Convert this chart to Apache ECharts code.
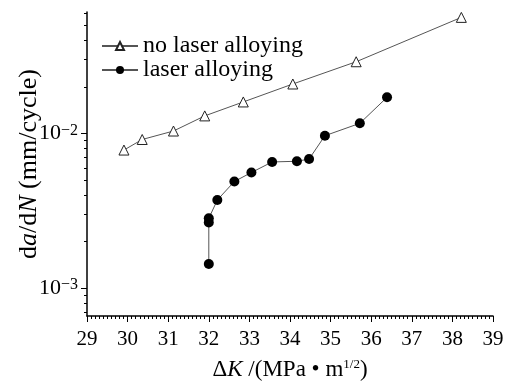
<!DOCTYPE html>
<html>
<head>
<meta charset="utf-8">
<script src="https://cdn.jsdelivr.net/npm/echarts@6/dist/echarts.min.js"></script>
<style>
  html, body { margin: 0; padding: 0; background: #fff; }
</style>
</head>
<body>
<div id="main" style="width: 513px;height: 381px;"></div>
<script>
  // ΔK values and da/dN values
  var noLaserK = [29.91, 30.36, 31.13, 31.90, 32.85, 34.07, 35.63, 38.22]
  var noLaserRate = [7.82e-3, 9.15e-3, 1.038e-2, 1.30e-2, 1.60e-2, 2.09e-2, 2.91e-2, 5.63e-2]
  var laserK = [32.0, 32.0, 32.0, 32.21, 32.63, 33.05, 33.56, 34.17, 34.47, 34.86, 35.72, 36.39]
  var laserRate = [1.436e-3, 2.66e-3, 2.83e-3, 3.72e-3, 4.90e-3, 5.60e-3, 6.55e-3, 6.62e-3, 6.84e-3, 9.68e-3, 1.164e-2, 1.714e-2]
  var seriesNames = ['no laser alloying', 'laser alloying']
  var majorTicks = [1e-3, 1e-2]
  var minorTicks = [7e-4, 8e-4, 9e-4, 2e-3, 3e-3, 4e-3, 5e-3, 6e-3, 7e-3, 8e-3, 9e-3, 2e-2, 3e-2, 4e-2, 5e-2, 6e-2]

  function pairs(xs, ys) {
    return xs.map(function (x, i) { return [x, ys[i]] })
  }

  var serif = '"Liberation Serif", "DejaVu Serif", serif'
  var kMin = 29, kMax = 39
  var rateMin = 6.62e-4, rateMax = 0.061
  var charts = echarts.init(document.getElementById('main'))
  var option = {
    animation: false,
    grid: {
      left: 87,
      right: 20,
      top: 12,
      bottom: 65,
      outerBoundsMode: 'none'
    },
    legend: {
      orient: 'vertical',
      left: 96,
      top: 29,
      itemGap: 0,
      itemWidth: 36,
      itemHeight: 10,
      textStyle: {
        fontFamily: serif,
        fontSize: 24,
        color: '#000'
      },
      data: seriesNames
    },
    xAxis: [
      {
        type: 'value',
        min: kMin,
        max: kMax,
        interval: 1,
        name: '{d|Δ}{i|K}{n| /(MPa • m}{s|1/2}{n|)}',
        nameLocation: 'middle',
        nameGap: 42,
        nameMoveOverlap: false,
        nameTextStyle: {
          rich: {
            d: { fontFamily: serif, fontSize: 23, color: '#000' },
            i: { fontFamily: serif, fontSize: 23, fontStyle: 'italic', color: '#000' },
            n: { fontFamily: serif, fontSize: 23, color: '#000' },
            s: { fontFamily: serif, fontSize: 13, color: '#000', verticalAlign: 'top', lineHeight: 14 }
          }
        },
        axisLine: { lineStyle: { color: '#000', width: 1.5 } },
        axisTick: { length: 6, lineStyle: { color: '#000' } },
        axisLabel: {
          margin: 13,
          fontFamily: serif,
          fontSize: 21,
          color: '#000'
        },
        splitLine: { show: false }
      },
      {
        // minor ticks, every 0.1
        type: 'value',
        position: 'bottom',
        min: kMin,
        max: kMax,
        interval: 0.1,
        axisLine: { show: false },
        axisTick: { length: 3, lineStyle: { color: '#000' } },
        axisLabel: { show: false },
        splitLine: { show: false }
      }
    ],
    yAxis: [
      {
        type: 'log',
        logBase: 10,
        min: rateMin,
        max: rateMax,
        name: '{n|d}{i|a}{n|/d}{i|N}{n| (mm/cycle)}',
        nameLocation: 'middle',
        nameGap: 45,
        nameMoveOverlap: false,
        nameTextStyle: {
          rich: {
            n: { fontFamily: serif, fontSize: 26, color: '#000' },
            i: { fontFamily: serif, fontSize: 26, fontStyle: 'italic', color: '#000' }
          }
        },
        axisLine: { show: true, lineStyle: { color: '#000', width: 1.5 } },
        axisTick: { length: 6, customValues: majorTicks, lineStyle: { color: '#000' } },
        axisLabel: {
          margin: 9,
          customValues: majorTicks,
          formatter: function (v) {
            var e = Math.round(Math.log10(v))
            return '{b|10}{s|' + String(e).replace('-', '\u2212') + '}'
          },
          rich: {
            b: { fontFamily: serif, fontSize: 22, color: '#000' },
            s: { fontFamily: serif, fontSize: 16, color: '#000', verticalAlign: 'top', lineHeight: 14 }
          }
        },
        splitLine: { show: false }
      },
      {
        // minor ticks 2..9 of each decade
        type: 'log',
        logBase: 10,
        min: rateMin,
        max: rateMax,
        position: 'left',
        axisLine: { show: false },
        axisTick: { length: 3, customValues: minorTicks, lineStyle: { color: '#000' } },
        axisLabel: { show: false },
        splitLine: { show: false }
      }
    ],
    series: [
      {
        name: seriesNames[0],
        type: 'line',
        xAxisIndex: 0,
        yAxisIndex: 0,
        symbol: 'triangle',
        symbolSize: 10,
        itemStyle: { color: '#fff', borderColor: '#222', borderWidth: 1 },
        lineStyle: { color: '#555', width: 1 },
        data: pairs(noLaserK, noLaserRate)
      },
      {
        name: seriesNames[1],
        type: 'line',
        xAxisIndex: 1,
        yAxisIndex: 1,
        symbol: 'circle',
        symbolSize: 10,
        itemStyle: { color: '#000' },
        lineStyle: { color: '#555', width: 1 },
        data: pairs(laserK, laserRate)
      }
    ]
  }
  charts.setOption(option)
</script>
</body>
</html>
